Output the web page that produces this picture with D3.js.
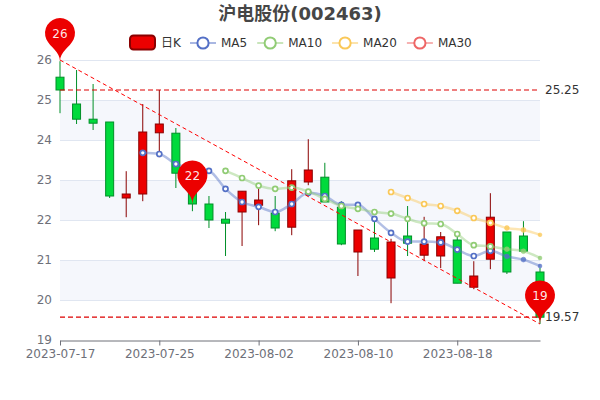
<!DOCTYPE html>
<html><head><meta charset="utf-8">
<script src="https://cdn.jsdelivr.net/npm/d3@7/dist/d3.min.js"></script>
<style>html,body{margin:0;padding:0;background:#fff}svg{display:block}</style>
</head><body><div id="chart"></div>
<script>
const titleText = "沪电股份(002463)";
const dates = ["2023-07-17","2023-07-18","2023-07-19","2023-07-20","2023-07-21","2023-07-24","2023-07-25","2023-07-26","2023-07-27","2023-07-28","2023-07-31","2023-08-01","2023-08-02","2023-08-03","2023-08-04","2023-08-07","2023-08-08","2023-08-09","2023-08-10","2023-08-11","2023-08-14","2023-08-15","2023-08-16","2023-08-17","2023-08-18","2023-08-21","2023-08-22","2023-08-23","2023-08-24","2023-08-25"];
const xTicks = ["2023-07-17","2023-07-25","2023-08-02","2023-08-10","2023-08-18"];
const yTicks = [19,20,21,22,23,24,25,26];
const opens  = [25.57,24.9,24.52,24.45,22.55,22.65,24.18,24.17,22.95,22.4,22.02,22.2,22.37,22.17,21.82,22.95,23.07,22.32,21.2,21.55,20.55,21.6,21.12,21.1,21.5,20.32,21.02,21.7,21.6,20.7];
const closes = [25.25,24.52,24.42,22.6,22.65,24.2,24.4,23.17,22.4,22.0,21.92,22.72,22.5,21.8,22.98,23.25,22.45,21.4,21.75,21.27,21.45,21.42,21.4,21.58,20.42,20.6,22.07,20.7,21.22,19.57];
const lows   = [24.67,24.4,24.25,22.55,22.07,22.47,23.57,22.8,22.22,21.8,21.1,21.35,21.87,21.72,21.62,22.87,22.45,21.37,20.6,21.2,19.92,21.1,20.97,20.8,20.42,20.27,20.77,20.65,21.22,19.4];
const highs  = [25.97,25.75,25.4,24.45,23.22,24.9,25.25,24.3,23.1,22.6,22.2,22.72,22.8,22.6,23.27,24.02,23.43,22.47,21.75,22.05,21.53,22.35,22.08,21.7,21.72,20.97,22.67,21.7,21.97,20.8];
const ma5  = [null,null,null,null,null,23.68,23.65,23.4,23.3,23.23,22.78,22.45,22.33,22.2,22.4,22.68,22.6,22.38,22.38,22.03,21.68,21.46,21.46,21.44,21.26,21.1,21.23,21.09,21.01,20.85];
const ma10 = [null,null,null,null,null,null,null,null,null,null,23.23,23.05,22.86,22.78,22.81,22.71,22.53,22.35,22.28,22.2,22.16,22.03,21.92,21.9,21.65,21.37,21.34,21.27,21.22,21.05];
const ma20 = [null,null,null,null,null,null,null,null,null,null,null,null,null,null,null,null,null,null,null,null,22.7,22.55,22.4,22.35,22.23,22.05,21.93,21.8,21.75,21.63];
const ma30 = [];
const seriesNames = ["MA5","MA10","MA20","MA30"];
const seriesValues = [ma5,ma10,ma20,ma30];
const seriesColors = ["#5470c6","#91cc75","#fac858","#ee6666"];
const candleLegend = "日K";
const hLines = [25.25,19.57];
const trendFrom = ["2023-07-17",26], trendTo = ["2023-08-25",19.4];
const pins = [["2023-07-17",25.96,"26"],["2023-07-27",22.4,"22"],["2023-08-25",19.4,"19"]];

const UP="#ec0000",UPB="#8A0000",DN="#00da3c",DNB="#008F28";
const font='"DejaVu Sans","Noto Sans CJK SC",sans-serif';
const gridL=60,gridR=540,gridT=60,gridB=340;
const svg=d3.select("#chart").append("svg").attr("width",600).attr("height",400).style("font-family",font);
const x=d3.scalePoint().domain(dates).range([gridL,gridR]);
const y=d3.scaleLinear().domain([19,26]).range([gridB,gridT]);

// split areas
const bands=d3.pairs(yTicks).filter((d,i)=>i%2===1);
svg.append("g").selectAll("rect").data(bands).join("rect")
  .attr("x",gridL).attr("width",gridR-gridL).attr("y",d=>y(d[1])).attr("height",d=>y(d[0])-y(d[1])).attr("fill","#f5f7fc");
// grid
svg.append("g").selectAll("line").data(yTicks.slice(1)).join("line")
  .attr("x1",gridL).attr("x2",gridR).attr("y1",d=>y(d)+.5).attr("y2",d=>y(d)+.5).attr("stroke","#E0E6F1");
// axes
const ax=svg.append("g").attr("transform",`translate(0,${gridB+.5})`).call(d3.axisBottom(x).tickValues(xTicks).tickSize(5).tickPadding(4).tickSizeOuter(0));
ax.selectAll("path,line").attr("stroke","#6E7079");
ax.selectAll("text").attr("fill","#6E7079").style("font-size","12px").style("font-family",font);
const ay=svg.append("g").attr("transform",`translate(${gridL},0)`).call(d3.axisLeft(y).tickValues(yTicks).tickSize(0).tickPadding(8).tickFormat(d3.format("d")));
ay.select("path").remove();
ay.selectAll("text").attr("fill","#6E7079").style("font-size","12px").style("font-family",font);

// candles
const idx=d3.range(dates.length);
const isUp=i=>closes[i]>=opens[i];
const cg=svg.append("g");
cg.selectAll("line").data(idx).join("line")
  .attr("x1",i=>x(dates[i])).attr("x2",i=>x(dates[i]))
  .attr("y1",i=>y(highs[i])).attr("y2",i=>y(lows[i]))
  .attr("stroke",i=>isUp(i)?UPB:DNB).attr("stroke-width",1);
cg.selectAll("rect").data(idx).join("rect")
  .attr("x",i=>x(dates[i])-4).attr("width",8)
  .attr("y",i=>y(Math.max(opens[i],closes[i])))
  .attr("height",i=>Math.abs(y(opens[i])-y(closes[i])))
  .attr("fill",i=>isUp(i)?UP:DN).attr("stroke",i=>isUp(i)?UPB:DNB).attr("stroke-width",1);

// MA lines
seriesValues.forEach((vals,k)=>{
  const pts=vals.map((v,i)=>({v,i})).filter(d=>d.v!=null);
  if(!pts.length)return;
  const col=seriesColors[k];
  svg.append("path").datum(pts)
    .attr("d",d3.line().x(d=>x(dates[d.i])).y(d=>y(d.v)).curve(d3.curveMonotoneX))
    .attr("fill","none").attr("stroke",col).attr("stroke-width",2.5).attr("stroke-opacity",.45);
  svg.append("g").selectAll("circle").data(pts).join("circle")
    .attr("cx",d=>x(dates[d.i])).attr("cy",d=>y(d.v))
    .attr("r",d=>d.i>=29?1.9:d.i>=27?2.4:2.5)
    .attr("fill",d=>d.i>=27?col:"#fff").attr("fill-opacity",d=>d.i>=27?.8:1)
    .attr("stroke",col).attr("stroke-width",d=>d.i>=27?.5:1.7);
});

// mark lines
svg.append("g").selectAll("line").data(hLines).join("line")
  .attr("x1",gridL).attr("x2",gridR).attr("y1",d=>y(d)).attr("y2",d=>y(d))
  .attr("stroke","#dd0000").attr("stroke-width",1.2).attr("stroke-dasharray","5,3");
svg.append("g").selectAll("text").data(hLines).join("text")
  .attr("x",gridR+5).attr("y",d=>y(d)).attr("dy","0.35em")
  .attr("fill","#333").style("font-size","12px").text(d=>d3.format(".2f")(d));
svg.append("line")
  .attr("x1",x(trendFrom[0])).attr("y1",y(trendFrom[1])).attr("x2",x(trendTo[0])).attr("y2",y(trendTo[1]))
  .attr("stroke","#f00").attr("stroke-width",1).attr("stroke-dasharray","4,3");

// pins
function pinPath(px,py,size){
  const w=size/5*3,h=Math.max(w,size),r=w/2,dy=r*r/(h-r),cy=py-h+r+dy,ang=Math.asin(dy/r),dx=Math.cos(ang)*r,tx=Math.sin(ang),ty=Math.cos(ang),c1=r*.6,c2=r*.7;
  const p=d3.path();
  p.moveTo(px-dx,cy+dy);
  p.arc(px,cy,r,Math.PI-ang,Math.PI*2+ang);
  p.bezierCurveTo(px+dx-tx*c1,cy+dy+ty*c1,px,py-c2,px,py);
  p.bezierCurveTo(px,py-c2,px-dx+tx*c1,cy+dy+ty*c1,px-dx,cy+dy);
  p.closePath();
  return {d:p.toString(),cy};
}
pins.forEach(([dt,v,lab])=>{
  const P=pinPath(x(dt),y(v),50);
  svg.append("path").attr("d",P.d).attr("fill","#ec0000");
  svg.append("text").attr("x",x(dt)).attr("y",P.cy+.7).attr("dy","0.35em").attr("text-anchor","middle")
    .attr("fill","#fff").attr("fill-opacity",.92).style("font-size","12px").text(lab);
});

// title
svg.append("text").attr("x",300).attr("y",14).attr("dy","0.35em").attr("text-anchor","middle")
  .attr("fill","#464646").style("font-size","18px").style("font-weight","bold").text(titleText);

// legend
const ly=43, lg=svg.append("g");
lg.append("rect").attr("x",130).attr("y",ly-7.5).attr("width",25).attr("height",14).attr("rx",3.5)
  .attr("fill",UP).attr("stroke",UPB).attr("stroke-width",2);
lg.append("text").attr("x",161).attr("y",ly).attr("dy","0.35em").attr("fill","#333").style("font-size","12px").text(candleLegend);
let lx=190;
seriesNames.forEach((n,k)=>{
  const col=seriesColors[k];
  lg.append("line").attr("x1",lx).attr("x2",lx+26).attr("y1",ly).attr("y2",ly).attr("stroke",col).attr("stroke-width",2).attr("stroke-opacity",.5);
  lg.append("circle").attr("cx",lx+13).attr("cy",ly).attr("r",5.6).attr("fill","#fff").attr("stroke",col).attr("stroke-width",2);
  const t=lg.append("text").attr("x",lx+31).attr("y",ly).attr("dy","0.35em").attr("fill","#333").style("font-size","12px").text(n);
  lx+=31+t.node().getComputedTextLength()+10;
});
</script></body></html>
